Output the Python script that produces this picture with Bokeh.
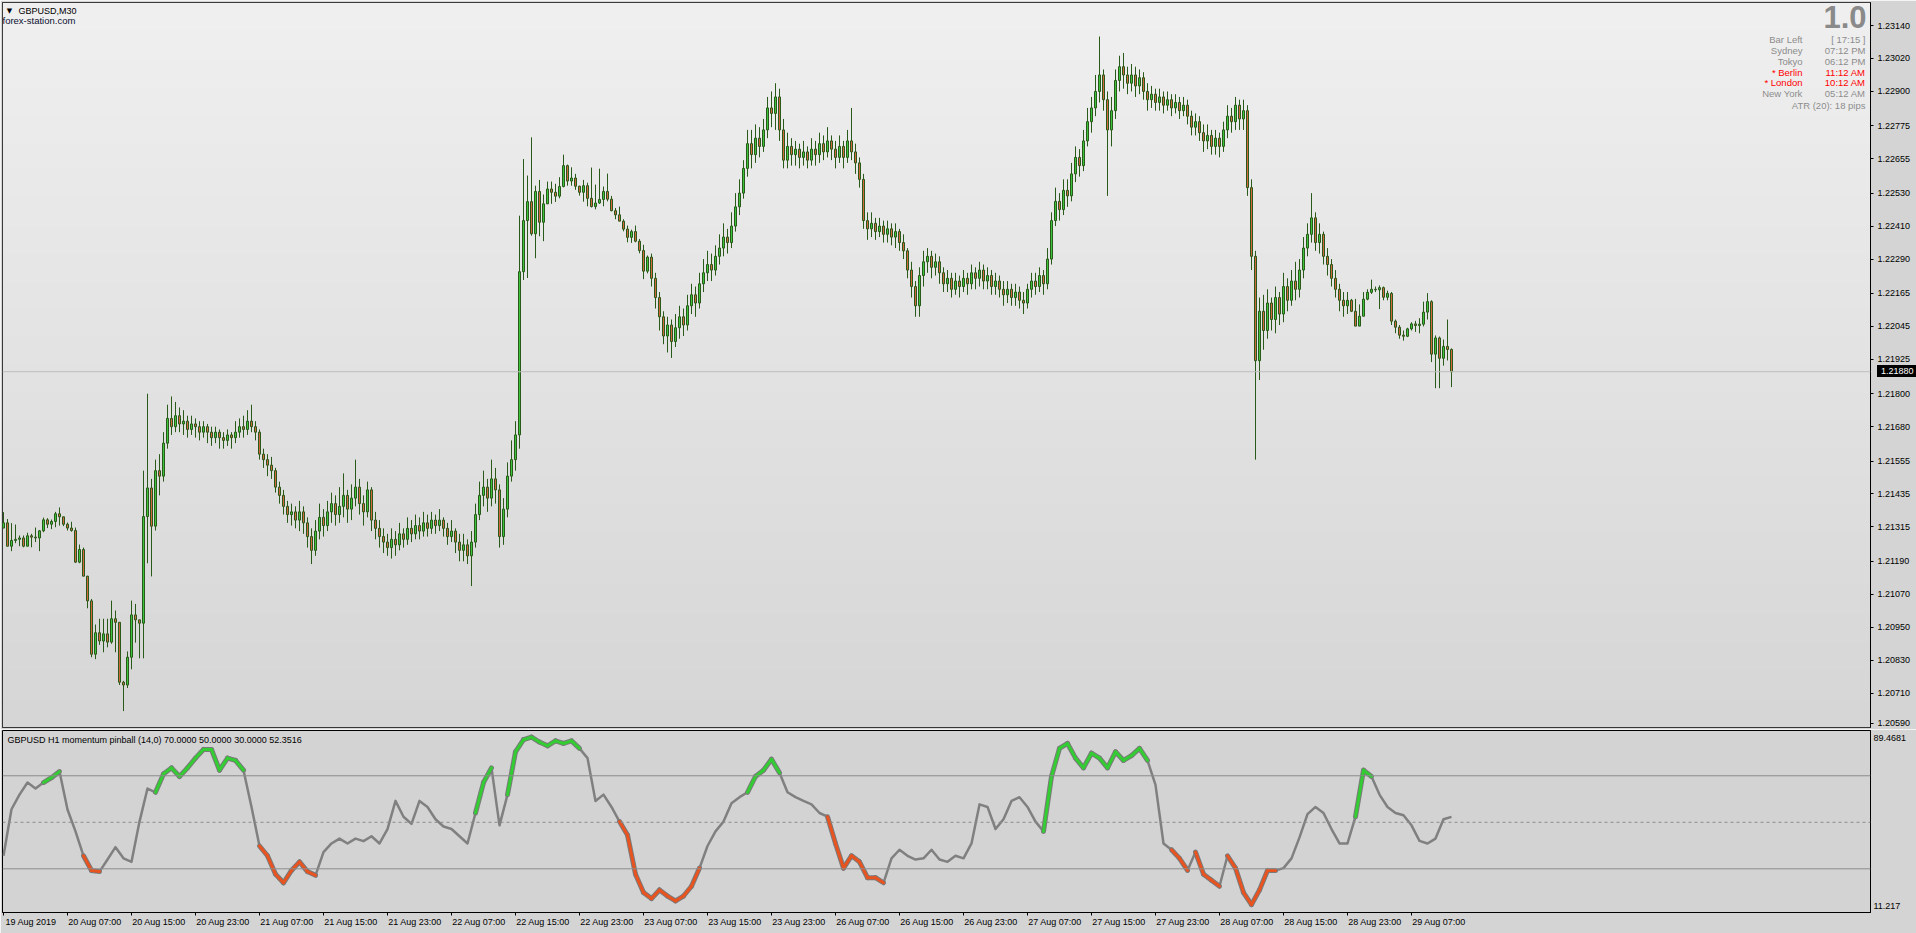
import numpy as np
from bokeh.plotting import figure
from bokeh.layouts import column
from bokeh.models import (Range1d, FixedTicker, Span, Label, LinearAxis, Div,
                          ColumnDataSource, GlobalInlineStyleSheet, CustomJSTickFormatter)
from bokeh.embed import file_html
from bokeh.resources import INLINE

# ---------------- data (GBPUSD M30) ----------------
first_open = 1.21311
close = [
1.21330,1.21245,1.21266,1.21270,1.21275,1.21245,1.21283,1.21278,1.21275,1.21301,
1.21341,1.21325,1.21335,1.21363,1.21352,1.21325,1.21311,1.21302,1.21187,1.21233,
1.21136,1.21046,1.20852,1.20930,1.20900,1.20926,1.20896,1.20981,1.20968,1.20750,
1.20740,1.20841,1.20995,1.20977,1.20965,1.21353,1.21457,1.21318,1.21520,1.21500,
1.21620,1.21710,1.21680,1.21720,1.21690,1.21700,1.21670,1.21690,1.21680,1.21660,
1.21680,1.21660,1.21640,1.21660,1.21640,1.21630,1.21650,1.21640,1.21660,1.21680,
1.21670,1.21700,1.21680,1.21660,1.21580,1.21560,1.21540,1.21520,1.21460,1.21430,
1.21390,1.21360,1.21370,1.21340,1.21370,1.21330,1.21280,1.21230,1.21300,1.21350,
1.21320,1.21370,1.21400,1.21360,1.21390,1.21430,1.21380,1.21420,1.21460,1.21400,
1.21370,1.21450,1.21340,1.21310,1.21280,1.21260,1.21240,1.21270,1.21250,1.21290,
1.21270,1.21310,1.21290,1.21320,1.21300,1.21330,1.21310,1.21340,1.21320,1.21340,
1.21310,1.21280,1.21300,1.21260,1.21230,1.21250,1.21210,1.21260,1.21360,1.21430,
1.21460,1.21420,1.21490,1.21450,1.21280,1.21380,1.21500,1.21560,1.21650,1.22244,
1.22430,1.22499,1.22382,1.22536,1.22424,1.22491,1.22545,1.22533,1.22519,1.22554,
1.22630,1.22574,1.22585,1.22555,1.22533,1.22557,1.22511,1.22481,1.22494,1.22507,
1.22536,1.22508,1.22466,1.22451,1.22428,1.22399,1.22369,1.22390,1.22355,1.22321,
1.22246,1.22297,1.22220,1.22150,1.22080,1.22010,1.22050,1.21990,1.22040,1.22080,
1.22050,1.22120,1.22160,1.22130,1.22200,1.22240,1.22270,1.22250,1.22300,1.22330,
1.22370,1.22350,1.22410,1.22480,1.22530,1.22620,1.22710,1.22670,1.22730,1.22700,
1.22760,1.22840,1.22820,1.22880,1.22760,1.22650,1.22700,1.22670,1.22690,1.22660,
1.22680,1.22650,1.22690,1.22670,1.22710,1.22680,1.22720,1.22690,1.22660,1.22700,
1.22660,1.22720,1.22680,1.22640,1.22580,1.22430,1.22400,1.22420,1.22390,1.22410,
1.22380,1.22400,1.22370,1.22390,1.22350,1.22320,1.22250,1.22190,1.22120,1.22230,
1.22280,1.22300,1.22260,1.22280,1.22240,1.22200,1.22220,1.22180,1.22210,1.22190,
1.22220,1.22200,1.22240,1.22220,1.22250,1.22210,1.22230,1.22190,1.22210,1.22180,
1.22160,1.22180,1.22150,1.22170,1.22140,1.22130,1.22180,1.22210,1.22190,1.22230,
1.22200,1.22290,1.22430,1.22500,1.22470,1.22540,1.22520,1.22600,1.22660,1.22630,
1.22720,1.22790,1.22840,1.22900,1.22960,1.22870,1.22760,1.22830,1.22940,1.22990,
1.22960,1.22930,1.22960,1.22920,1.22950,1.22900,1.22870,1.22890,1.22860,1.22880,
1.22850,1.22870,1.22840,1.22860,1.22830,1.22850,1.22810,1.22770,1.22790,1.22750,
1.22720,1.22740,1.22700,1.22730,1.22700,1.22760,1.22810,1.22790,1.22850,1.22800,
1.22830,1.22550,1.22300,1.21920,1.22100,1.22030,1.22130,1.22070,1.22150,1.22090,
1.22190,1.22140,1.22210,1.22180,1.22250,1.22330,1.22380,1.22440,1.22350,1.22380,
1.22300,1.22270,1.22220,1.22180,1.22140,1.22120,1.22140,1.22100,1.22046,1.22082,
1.22144,1.22169,1.22180,1.22178,1.22186,1.22151,1.22165,1.22064,1.22042,1.22013,
1.22009,1.22036,1.22054,1.22048,1.22053,1.22097,1.22135,1.21944,1.22003,1.21929,
1.21972,1.21961,1.21880]
high = [
1.21369,1.21344,1.21329,1.21324,1.21284,1.21284,1.21294,1.21290,1.21313,1.21304,
1.21349,1.21347,1.21342,1.21370,1.21386,1.21352,1.21331,1.21334,1.21313,1.21251,
1.21240,1.21137,1.21053,1.20960,1.20981,1.20981,1.20981,1.21047,1.21011,1.20968,
1.20755,1.20862,1.21047,1.21035,1.20977,1.21520,1.21800,1.21490,1.21560,1.21580,
1.21660,1.21760,1.21790,1.21770,1.21750,1.21740,1.21720,1.21720,1.21710,1.21700,
1.21700,1.21690,1.21680,1.21680,1.21670,1.21660,1.21670,1.21660,1.21700,1.21710,
1.21720,1.21740,1.21760,1.21700,1.21670,1.21600,1.21580,1.21570,1.21530,1.21480,
1.21450,1.21410,1.21400,1.21390,1.21410,1.21390,1.21350,1.21310,1.21340,1.21400,
1.21380,1.21410,1.21440,1.21430,1.21460,1.21510,1.21450,1.21470,1.21560,1.21490,
1.21430,1.21480,1.21460,1.21370,1.21340,1.21310,1.21290,1.21310,1.21300,1.21330,
1.21310,1.21350,1.21340,1.21360,1.21350,1.21370,1.21360,1.21370,1.21360,1.21380,
1.21350,1.21330,1.21340,1.21310,1.21290,1.21290,1.21270,1.21300,1.21400,1.21480,
1.21520,1.21490,1.21560,1.21530,1.21470,1.21420,1.21550,1.21630,1.21700,1.22448,
1.22654,1.22594,1.22733,1.22557,1.22578,1.22525,1.22572,1.22572,1.22564,1.22588,
1.22670,1.22634,1.22624,1.22600,1.22557,1.22578,1.22568,1.22623,1.22561,1.22619,
1.22554,1.22601,1.22520,1.22476,1.22481,1.22435,1.22412,1.22397,1.22412,1.22363,
1.22342,1.22303,1.22310,1.22240,1.22170,1.22100,1.22080,1.22070,1.22090,1.22120,
1.22110,1.22160,1.22200,1.22190,1.22240,1.22290,1.22320,1.22310,1.22340,1.22380,
1.22420,1.22400,1.22460,1.22530,1.22580,1.22650,1.22760,1.22760,1.22780,1.22770,
1.22800,1.22880,1.22900,1.22930,1.22910,1.22800,1.22750,1.22730,1.22720,1.22710,
1.22720,1.22700,1.22730,1.22720,1.22750,1.22740,1.22770,1.22740,1.22720,1.22740,
1.22720,1.22760,1.22840,1.22710,1.22660,1.22600,1.22460,1.22460,1.22440,1.22440,
1.22430,1.22430,1.22420,1.22420,1.22400,1.22380,1.22330,1.22280,1.22210,1.22260,
1.22320,1.22330,1.22320,1.22310,1.22300,1.22260,1.22250,1.22240,1.22240,1.22230,
1.22250,1.22240,1.22270,1.22260,1.22280,1.22270,1.22260,1.22250,1.22240,1.22230,
1.22210,1.22210,1.22200,1.22200,1.22190,1.22170,1.22200,1.22240,1.22240,1.22260,
1.22250,1.22330,1.22460,1.22550,1.22530,1.22580,1.22580,1.22640,1.22700,1.22690,
1.22760,1.22840,1.22880,1.22960,1.23100,1.22980,1.22900,1.22880,1.22980,1.23030,
1.23040,1.22990,1.23000,1.22990,1.22980,1.22970,1.22930,1.22920,1.22910,1.22910,
1.22900,1.22900,1.22890,1.22890,1.22880,1.22880,1.22870,1.22830,1.22820,1.22810,
1.22780,1.22780,1.22760,1.22760,1.22750,1.22790,1.22850,1.22840,1.22880,1.22870,
1.22870,1.22850,1.22580,1.22320,1.22150,1.22160,1.22180,1.22150,1.22190,1.22170,
1.22240,1.22220,1.22250,1.22280,1.22290,1.22370,1.22420,1.22530,1.22460,1.22420,
1.22390,1.22330,1.22290,1.22250,1.22200,1.22170,1.22170,1.22145,1.22145,1.22125,
1.22170,1.22180,1.22215,1.22190,1.22194,1.22190,1.22175,1.22170,1.22070,1.22050,
1.22030,1.22040,1.22060,1.22065,1.22075,1.22135,1.22166,1.22140,1.22012,1.22008,
1.21997,1.22070,1.21965]
low = [
1.21311,1.21245,1.21227,1.21256,1.21245,1.21241,1.21245,1.21241,1.21260,1.21227,
1.21296,1.21311,1.21307,1.21314,1.21320,1.21318,1.21302,1.21298,1.21184,1.21183,
1.21136,1.21019,1.20841,1.20834,1.20886,1.20859,1.20877,1.20890,1.20859,1.20740,
1.20645,1.20729,1.20797,1.20894,1.20837,1.20837,1.21183,1.21135,1.21302,1.21430,
1.21480,1.21600,1.21650,1.21660,1.21660,1.21650,1.21640,1.21650,1.21640,1.21630,
1.21640,1.21620,1.21610,1.21620,1.21600,1.21600,1.21610,1.21600,1.21620,1.21640,
1.21640,1.21650,1.21660,1.21630,1.21560,1.21530,1.21500,1.21490,1.21440,1.21400,
1.21360,1.21330,1.21320,1.21310,1.21300,1.21290,1.21240,1.21180,1.21210,1.21270,
1.21280,1.21300,1.21330,1.21320,1.21330,1.21350,1.21330,1.21340,1.21390,1.21360,
1.21320,1.21350,1.21300,1.21270,1.21240,1.21220,1.21210,1.21200,1.21210,1.21230,
1.21240,1.21250,1.21260,1.21270,1.21270,1.21280,1.21280,1.21290,1.21290,1.21300,
1.21280,1.21250,1.21260,1.21220,1.21190,1.21190,1.21180,1.21100,1.21240,1.21340,
1.21390,1.21370,1.21390,1.21400,1.21240,1.21250,1.21350,1.21480,1.21520,1.21600,
1.22214,1.22221,1.22375,1.22293,1.22373,1.22355,1.22491,1.22491,1.22498,1.22511,
1.22551,1.22557,1.22557,1.22542,1.22521,1.22499,1.22482,1.22478,1.22471,1.22491,
1.22482,1.22500,1.22464,1.22435,1.22428,1.22391,1.22351,1.22349,1.22351,1.22311,
1.22217,1.22238,1.22190,1.22110,1.22030,1.21980,1.21950,1.21930,1.21970,1.22000,
1.22010,1.22030,1.22090,1.22080,1.22110,1.22170,1.22210,1.22210,1.22230,1.22270,
1.22300,1.22310,1.22330,1.22390,1.22450,1.22510,1.22590,1.22620,1.22640,1.22660,
1.22680,1.22730,1.22770,1.22760,1.22720,1.22620,1.22620,1.22630,1.22630,1.22620,
1.22630,1.22620,1.22630,1.22630,1.22640,1.22650,1.22660,1.22650,1.22620,1.22640,
1.22620,1.22640,1.22650,1.22600,1.22550,1.22400,1.22360,1.22370,1.22360,1.22370,
1.22350,1.22350,1.22340,1.22330,1.22320,1.22290,1.22220,1.22150,1.22080,1.22080,
1.22190,1.22240,1.22220,1.22230,1.22200,1.22170,1.22170,1.22150,1.22160,1.22150,
1.22170,1.22160,1.22180,1.22180,1.22190,1.22180,1.22180,1.22160,1.22160,1.22150,
1.22120,1.22130,1.22120,1.22120,1.22110,1.22090,1.22110,1.22150,1.22160,1.22170,
1.22160,1.22180,1.22270,1.22410,1.22430,1.22450,1.22480,1.22500,1.22570,1.22590,
1.22610,1.22700,1.22750,1.22810,1.22860,1.22830,1.22520,1.22700,1.22800,1.22900,
1.22910,1.22890,1.22900,1.22880,1.22890,1.22870,1.22830,1.22840,1.22830,1.22830,
1.22820,1.22830,1.22810,1.22820,1.22800,1.22810,1.22780,1.22740,1.22740,1.22720,
1.22680,1.22690,1.22670,1.22670,1.22660,1.22680,1.22730,1.22750,1.22760,1.22760,
1.22760,1.22520,1.22250,1.21560,1.21850,1.21960,1.22000,1.22030,1.22020,1.22050,
1.22060,1.22100,1.22120,1.22140,1.22150,1.22220,1.22300,1.22350,1.22320,1.22310,
1.22270,1.22230,1.22190,1.22150,1.22100,1.22080,1.22090,1.22097,1.22046,1.22046,
1.22082,1.22140,1.22163,1.22170,1.22108,1.22140,1.22140,1.22050,1.22020,1.22000,
1.21993,1.22006,1.22030,1.22025,1.22020,1.22045,1.22070,1.21915,1.21820,1.21820,
1.21902,1.21921,1.21824]
current_price = 1.21880

# momentum pinball (14,0), H1 values (one per 2 M30 bars)
pinball = [
35.6,55.6,61.9,67.1,64.5,67.1,69.2,71.8,55.5,46.1,
35.6,29.3,28.8,34.0,39.3,34.5,33.0,50.3,64.5,62.9,
70.8,73.4,69.7,73.4,77.6,81.3,81.3,72.4,77.6,76.6,
72.4,56.6,39.8,35.6,27.7,24.0,29.3,33.0,28.8,27.2,
37.2,40.9,43.0,40.9,43.0,41.9,44.0,40.9,47.1,59.2,
52.4,49.3,59.2,56.6,51.3,48.2,47.1,44.0,40.9,54.0,
67.1,73.4,48.7,61.9,80.3,85.5,86.6,84.5,82.9,85.0,
83.9,85.0,81.8,77.6,59.2,61.9,56.6,50.3,44.5,27.7,
19.8,17.2,20.9,18.3,16.2,18.3,22.5,30.3,39.8,46.1,
50.3,58.2,60.8,62.9,69.7,72.4,77.1,71.3,62.9,60.8,
59.2,57.7,54.0,52.4,40.9,30.3,35.6,33.0,26.2,26.2,
24.0,34.5,38.2,35.6,34.0,34.5,38.2,34.0,33.0,35.6,
34.5,40.9,57.7,56.6,47.1,51.3,59.2,60.8,56.6,50.3,
46.1,69.7,81.8,83.9,77.6,73.4,79.7,77.6,73.4,80.3,
76.6,78.7,81.8,76.6,66.1,40.9,38.2,34.5,29.3,37.2,
27.7,25.1,22.5,35.6,30.3,19.8,14.6,20.9,29.3,29.3,
30.3,34.5,43.5,53.5,56.6,54.0,47.1,40.9,40.9,52.4,
72.4,69.7,61.9,56.6,54.0,53.0,48.7,42.0,40.9,43.0,
51.3,52.3516]
# colour state of the segment ending at each point: 1 up (green), -1 down (red), 0 plain
pinball_state = [
0,0,0,0,0,0,1,1,0,0,
0,-1,-1,0,0,0,0,0,0,0,
1,1,1,1,1,1,1,1,1,1,
1,0,0,-1,-1,-1,-1,-1,-1,-1,
0,0,0,0,0,0,0,0,0,0,
0,0,0,0,0,0,0,0,0,0,
1,1,0,0,1,1,1,1,1,1,
1,1,1,0,0,0,0,0,-1,-1,
-1,-1,-1,-1,-1,-1,-1,-1,0,0,
0,0,0,0,1,1,1,1,0,0,
0,0,0,0,-1,-1,-1,-1,-1,-1,
-1,0,0,0,0,0,0,0,0,0,
0,0,0,0,0,0,0,0,0,0,
0,1,1,1,1,1,1,1,1,1,
1,1,1,1,0,0,0,-1,-1,0,
-1,-1,-1,0,-1,-1,-1,-1,-1,-1,
0,0,0,0,0,0,0,0,0,0,
1,1,0,0,0,0,0,0,0,0,
0,0]
levels = [70.0, 50.0, 30.0]
ind_min, ind_max = 11.217, 89.4681
ind_labels = ["89.4681", "11.217"]

price_ticks = [1.23140,1.23020,1.22900,1.22775,1.22655,1.22530,1.22410,1.22290,1.22165,
               1.22045,1.21925,1.21800,1.21680,1.21555,1.21435,1.21315,1.21190,1.21070,
               1.20950,1.20830,1.20710,1.20590]
time_labels = ["19 Aug 2019","20 Aug 07:00","20 Aug 15:00","20 Aug 23:00","21 Aug 07:00",
               "21 Aug 15:00","21 Aug 23:00","22 Aug 07:00","22 Aug 15:00","22 Aug 23:00",
               "23 Aug 07:00","23 Aug 15:00","23 Aug 23:00","26 Aug 07:00","26 Aug 15:00",
               "26 Aug 23:00","27 Aug 07:00","27 Aug 15:00","27 Aug 23:00","28 Aug 07:00",
               "28 Aug 15:00","28 Aug 23:00","29 Aug 07:00"]
bars_per_label = 16

info_names = ["Bar Left","Sydney","Tokyo","* Berlin","* London","New York"]
info_values = ["[ 17:15 ]","07:12 PM","06:12 PM","11:12 AM","10:12 AM","05:12 AM"]
info_active = [False,False,False,True,True,False]
atr_text = "ATR (20): 18 pips"

# ---------------- layout constants ----------------
W = 1916
MAIN_H, IND_H = 729, 204
BL, BR = 2, 46             # frame borders left / right
BAR_PX = 4.0               # pixels per M30 bar
X0 = -0.25
X1 = X0 + (W - BL - BR) / BAR_PX
# main price scale: 1.23140 sits at y=25, 27478 px per 1.0
REF_P, REF_Y, PPP = 1.2314, 25.0, 27478.0
M_TOP, M_BOT = 2, MAIN_H - 2
p_top = REF_P + (REF_Y - M_TOP) / PPP
p_bot = REF_P - (M_BOT - REF_Y) / PPP
I_TOP, I_BOT = 1, 21
I_PX = IND_H - I_TOP - I_BOT            # indicator frame height in px

FONT = "Liberation Sans"
WICK = "#2A5A1A"
UP_FILL = "#3DC43D"
DN_FILL = "#D2693C"
GRAY_BG = "#D4D4D4"

def px_x(px):
    return X0 + (px - BL) / BAR_PX

def py_price(py):
    return REF_P - (py - REF_Y) / PPP

def py_ind(py_from_top):
    return ind_max - py_from_top * (ind_max - ind_min) / I_PX

NEAREST = """
let best = 0;
for (let i = 0; i < pos.length; i++) {
  if (Math.abs(pos[i] - tick) < Math.abs(pos[best] - tick)) best = i;
}
return labels[best];
"""

def label_formatter(pos, labels):
    return CustomJSTickFormatter(args=dict(pos=list(pos), labels=list(labels)), code=NEAREST)

# ---------------- main price chart ----------------
x_range = Range1d(X0, X1)
p = figure(width=W, height=MAIN_H, x_range=x_range, y_range=Range1d(p_bot, p_top),
           toolbar_location=None, output_backend="svg",
           x_axis_location=None, y_axis_location="right",
           min_border_left=BL, min_border_right=BR, min_border_top=M_TOP, min_border_bottom=2)
p.border_fill_color = GRAY_BG
p.background_fill_color = "#E2E2E2"
p.outline_line_color = "black"
p.outline_line_width = 1
p.grid.visible = False

# vertical gradient background of the chart area
N = 256
img = np.zeros((N, 1), dtype=np.uint32)
view = img.view(dtype=np.uint8).reshape((N, 1, 4))
shade = np.linspace(214, 240, N).astype(np.uint8)[:, None]
view[:, :, 0] = shade
view[:, :, 1] = shade
view[:, :, 2] = shade
view[:, :, 3] = 255
p.image_rgba(image=[img], x=X0, y=p_bot, dw=X1 - X0, dh=p_top - p_bot)

opens = [first_open] + close[:-1]
n = len(close)
top = [max(o, c) for o, c in zip(opens, close)]
bot = [min(o, c) for o, c in zip(opens, close)]
hi = [max(h, t) for h, t in zip(high, top)]
lo = [min(l, b) for l, b in zip(low, bot)]
colors = [UP_FILL if c >= o else DN_FILL for o, c in zip(opens, close)]
src = ColumnDataSource(dict(x=list(range(n)), top=top, bottom=bot, high=hi, low=lo, color=colors))

p.add_layout(Span(location=current_price, dimension="width", line_color="#BDBDBD", line_width=1))
p.segment(x0="x", y0="low", x1="x", y1="high", line_color=WICK, line_width=1, source=src)
p.vbar(x="x", width=0.5, top="top", bottom="bottom", fill_color="color",
       line_color=WICK, line_width=1, source=src)

# the lowest label sits on the panel edge: lift its tick a couple of pixels so it is not cut
price_tick_pos = price_ticks[:-1] + [py_price(M_BOT - 4.5)]
ax = p.yaxis[0]
ax.ticker = FixedTicker(ticks=price_tick_pos)
ax.formatter = label_formatter(price_tick_pos, ["%.5f" % v for v in price_ticks])
ax.major_tick_in = 0
ax.major_tick_out = 3
ax.minor_tick_line_color = None
ax.axis_line_color = "black"
ax.major_tick_line_color = "black"
ax.major_label_standoff = 4
ax.major_label_text_font = FONT
ax.major_label_text_font_size = "9px"
ax.major_label_text_color = "black"

# header texts
p.add_layout(Label(x=px_x(9), y=py_price(10.5), text="\u25BC", text_font="DejaVu Sans",
                   text_font_size="7px", text_color="black", text_align="center",
                   text_baseline="middle"))
p.add_layout(Label(x=px_x(18), y=py_price(10.5), text="GBPUSD,M30", text_font=FONT,
                   text_font_size="9px", text_color="black", text_baseline="middle"))
p.add_layout(Label(x=px_x(2), y=py_price(19.5), text="forex-station.com", text_font=FONT,
                   text_font_size="9.5px", text_color="#0B1030", text_baseline="middle"))

# info panel (top right)
p.add_layout(Label(x=px_x(1866), y=py_price(16), text="1.0", text_font=FONT,
                   text_font_size="31px", text_font_style="bold", text_color="#8A8A8A",
                   text_align="right", text_baseline="middle"))
for k, (nm, vl, act) in enumerate(zip(info_names, info_values, info_active)):
    yy = py_price(39 + 10.85 * k)
    col = "#FF0000" if act else "#8C8C8C"
    p.add_layout(Label(x=px_x(1802), y=yy, text=nm, text_font=FONT, text_font_size="9.5px",
                       text_color=col, text_align="right", text_baseline="middle"))
    p.add_layout(Label(x=px_x(1865), y=yy, text=vl, text_font=FONT, text_font_size="9.5px",
                       text_color=col, text_align="right", text_baseline="middle"))
p.add_layout(Label(x=px_x(1865), y=py_price(105.3), text=atr_text, text_font=FONT,
                   text_font_size="9.5px", text_color="#8C8C8C", text_align="right",
                   text_baseline="middle"))

# ---------------- indicator panel ----------------
q = figure(width=W, height=IND_H, x_range=x_range, y_range=Range1d(ind_min, ind_max),
           toolbar_location=None, output_backend="svg",
           x_axis_location="below", y_axis_location="right",
           min_border_left=BL, min_border_right=BR, min_border_top=I_TOP, min_border_bottom=I_BOT)
q.border_fill_color = GRAY_BG
q.background_fill_color = "#D3D3D3"
q.outline_line_color = "black"
q.outline_line_width = 1
q.grid.visible = False

for lv in levels:
    q.add_layout(Span(location=lv, dimension="width", line_color="#8C8C8C", line_width=1,
                      line_dash="solid" if lv != 50.0 else "3 3"))

ix = [2 * j for j in range(len(pinball))]
q.line(ix, pinball, line_color="#808080", line_width=2.5, line_join="round")
for state, colr in ((1, "#33CC33"), (-1, "#E8531F")):
    sx0, sy0, sx1, sy1 = [], [], [], []
    for j in range(1, len(pinball)):
        if pinball_state[j] == state:
            sx0.append(ix[j - 1]); sy0.append(pinball[j - 1])
            sx1.append(ix[j]); sy1.append(pinball[j])
    q.segment(sx0, sy0, sx1, sy1, line_color="#7A7A7A", line_width=5, line_cap="round")
    q.segment(sx0, sy0, sx1, sy1, line_color=colr, line_width=3, line_cap="round")

# scale labels: printed just inside the top and bottom edges of the panel
ind_label_pos = [py_ind(7), py_ind(I_PX - 7)]
yq = q.yaxis[0]
yq.ticker = FixedTicker(ticks=ind_label_pos)
yq.formatter = label_formatter(ind_label_pos, ind_labels)
yq.major_tick_in = 0
yq.major_tick_out = 0
yq.minor_tick_line_color = None
yq.axis_line_color = "black"
yq.major_label_standoff = 3
yq.major_label_text_font = FONT
yq.major_label_text_font_size = "9px"
yq.major_label_text_color = "black"

# time scale: one axis draws the tick marks, a second one prints the labels
# to the right of each mark (as the terminal does)
tick_pos = [bars_per_label * k for k in range(len(time_labels))]
xq = q.xaxis[0]
xq.ticker = FixedTicker(ticks=tick_pos)
xq.formatter = CustomJSTickFormatter(code="return ''")
xq.major_label_text_font_size = "0px"
xq.major_label_standoff = 0
xq.major_tick_in = 0
xq.major_tick_out = 3
xq.minor_tick_line_color = None
xq.axis_line_color = "black"
xq.major_tick_line_color = "black"

label_shift = 27.5 / BAR_PX
label_pos = [t + label_shift for t in tick_pos]
xlab = LinearAxis(ticker=FixedTicker(ticks=label_pos),
                  formatter=label_formatter(label_pos, time_labels),
                  axis_line_color=None, major_tick_line_color=None, minor_tick_line_color=None,
                  major_tick_in=0, major_tick_out=0, major_label_standoff=1,
                  major_label_text_font=FONT, major_label_text_font_size="9px",
                  major_label_text_color="black")
q.add_layout(xlab, "below")

q.add_layout(Label(x=px_x(7), y=py_ind(9),
                   text="GBPUSD H1 momentum pinball (14,0) 70.0000 50.0000 30.0000 52.3516",
                   text_font=FONT, text_font_size="9px", text_color="black",
                   text_baseline="middle"))

# current price marker on the price scale (sits over the axis strip)
box_top = REF_Y + (REF_P - current_price) * PPP - 11
price_box = Div(text="%.5f" % current_price, width=42, height=12,
                styles={"position": "absolute", "left": "%dpx" % (W - BR + 2),
                        "top": "%dpx" % round(box_top), "background-color": "black",
                        "color": "white", "font-family": FONT, "font-size": "9px",
                        "line-height": "12px", "padding-left": "4px", "box-sizing": "border-box",
                        "z-index": "10"})

page = column(p, q, price_box, spacing=0,
              stylesheets=[GlobalInlineStyleSheet(css="html,body{margin:0;padding:0;overflow:hidden;}")])
open("out.html", "w").write(file_html(page, INLINE))
